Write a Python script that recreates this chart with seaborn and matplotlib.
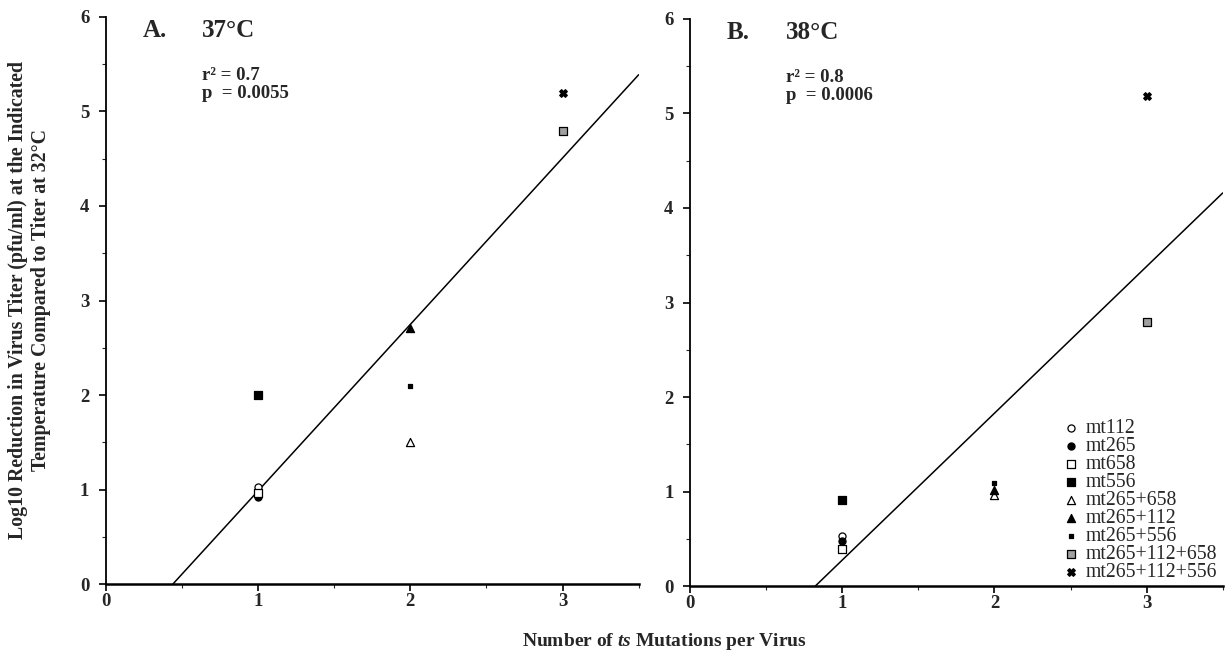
import pandas as pd
import seaborn as sns
import matplotlib.pyplot as plt
from matplotlib.ticker import MultipleLocator

# Data
strains = ['mt112', 'mt265', 'mt658', 'mt556', 'mt265+658', 'mt265+112',
           'mt265+556', 'mt265+112+658', 'mt265+112+556']
mutations = [1, 1, 1, 1, 2, 2, 2, 3, 3]
reduction_37 = [1.03, 0.92, 0.97, 2.0, 1.5, 2.71, 2.1, 4.79, 5.19]
reduction_38 = [0.53, 0.48, 0.40, 0.91, 0.97, 1.02, 1.09, 2.79, 5.18]

panel_letters = ['A.', 'B.']
panel_temps = ['37°C', '38°C']
panel_stats = ['r² = 0.7\np  = 0.0055', 'r² = 0.8\np  = 0.0006']

x_ticks = [0, 1, 2, 3]
y_ticks = [0, 1, 2, 3, 4, 5, 6]

df = pd.DataFrame({'strain': strains, 'mutations': mutations,
                   'red37': reduction_37, 'red38': reduction_38})

# marker, face colour, size for each strain
marker_styles = {
    'mt112': ('o', 'white', 26),
    'mt265': ('o', 'black', 26),
    'mt658': ('s', 'white', 26),
    'mt556': ('s', 'black', 40),
    'mt265+658': ('^', 'white', 34),
    'mt265+112': ('^', 'black', 34),
    'mt265+556': ('s', 'black', 12),
    'mt265+112+658': ('s', '#a0a0a0', 26),
    'mt265+112+556': ('X', 'black', 30),
}

sns.set_style('ticks')
plt.rcParams['font.family'] = ['Liberation Serif', 'DejaVu Serif']
plt.rcParams['font.weight'] = 'bold'
plt.rcParams['mathtext.fontset'] = 'custom'
plt.rcParams['mathtext.rm'] = 'Liberation Serif:bold'
plt.rcParams['mathtext.it'] = 'Liberation Serif:italic'

fig = plt.figure(figsize=(12.31, 6.53), dpi=100)
ax_a = fig.add_axes([0.0861, 0.1052, 0.4327, 0.8692])
ax_b = fig.add_axes([0.5606, 0.1020, 0.4327, 0.8694])

for ax, col, letter, temp, stats in zip([ax_a, ax_b], ['red37', 'red38'],
                                        panel_letters, panel_temps, panel_stats):
    ax.set_xlim(0, 3.5)
    ax.set_ylim(0, 6)

    # fitted line across the whole x range
    sns.regplot(data=df, x='mutations', y=col, scatter=False, ci=None,
                truncate=False, color='black', line_kws={'linewidth': 1.1}, ax=ax)

    for i, name in enumerate(strains):
        m, fc, s = marker_styles[name]
        sns.scatterplot(x=[mutations[i]], y=[df[col][i]], marker=m, s=s,
                        color=fc, edgecolor='black', linewidth=0.9,
                        label=name, ax=ax, zorder=3)

    ax.set_xticks(x_ticks)
    ax.set_yticks(y_ticks)
    ax.xaxis.set_minor_locator(MultipleLocator(0.5))
    ax.yaxis.set_minor_locator(MultipleLocator(0.5))
    ax.tick_params(which='major', direction='out', length=5, width=1.2,
                   labelsize=13.5, color='black')
    ax.tick_params(axis='x', which='major', pad=1)
    ax.tick_params(axis='y', which='major', pad=7)
    ax.tick_params(which='minor', direction='out', length=3, width=0.8)
    ax.set_xlabel('')
    ax.set_ylabel('')
    sns.despine(ax=ax)
    ax.spines['left'].set_linewidth(1.3)
    ax.spines['bottom'].set_linewidth(1.8)
    ax.spines['left'].set_color('black')
    ax.spines['bottom'].set_color('black')

    ax.text(0.0695, 0.965, letter, transform=ax.transAxes, fontsize=18,
            fontweight='bold', va='baseline')
    ax.text(0.180, 0.965, temp, transform=ax.transAxes, fontsize=18,
            fontweight='bold', va='baseline')
    ax.text(0.180, 0.857, stats, transform=ax.transAxes, fontsize=13.5,
            fontweight='bold', va='baseline', linespacing=1.1)

if ax_a.get_legend():
    ax_a.get_legend().remove()
ax_b.legend(loc='upper left', bbox_to_anchor=(0.70, 0.295), frameon=False,
            prop={'weight': 'normal', 'size': 14.2}, handlelength=0.8,
            handletextpad=0.35, labelspacing=-0.05, borderpad=0,
            borderaxespad=0, markerscale=1.0)

fig.text(0.024, 0.540,
         'Log10 Reduction in Virus Titer (pfu/ml) at the Indicated\n'
         'Temperature Compared to Titer at 32°C',
         rotation=90, ha='center', va='center', multialignment='center',
         fontsize=14.3, fontweight='bold', linespacing=1.2)
fig.text(0.540, 0.018, r'Number of $\it{ts}$ Mutations per Virus',
         ha='center', va='center', fontsize=14, fontweight='bold')

plt.savefig('out.png', dpi=100)
